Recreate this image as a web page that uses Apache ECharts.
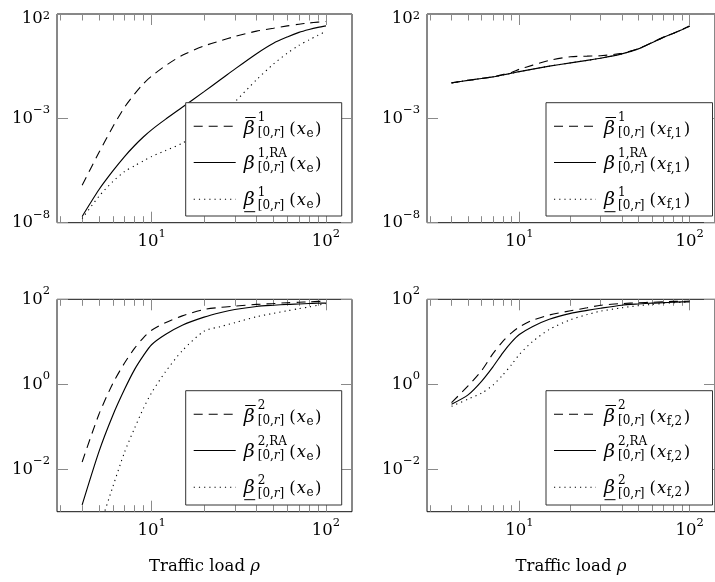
<!DOCTYPE html>
<html><head><meta charset="utf-8">
<script src="https://cdn.jsdelivr.net/npm/echarts@6/dist/echarts.min.js"></script>
<style>html,body{margin:0;padding:0;background:#fff}#c{width:715px;height:582px}</style>
</head><body><div id="c"></div>
<script>
// ---------------- data ----------------
const rho = [4,5,6,7,8,9,10,12,15,20,25,30,40,50,60,70,80,90,100];
// values are given as base-10 exponents of beta
const p1UpperExp = [-6.2,-4.63,-3.40,-2.47,-1.83,-1.33,-0.98,-0.48,0.02,0.47,0.72,0.92,1.18,1.32,1.43,1.51,1.57,1.61,1.64];
const p1RaExp    = [-7.7,-6.41,-5.52,-4.83,-4.30,-3.88,-3.55,-3.05,-2.47,-1.72,-1.13,-0.64,0.10,0.60,0.90,1.12,1.26,1.36,1.43];
const p1LowerExp = [-7.8,-6.73,-6.03,-5.55,-5.27,-5.03,-4.83,-4.55,-4.19,-3.60,-2.88,-2.22,-1.15,-0.40,0.12,0.50,0.76,0.98,1.17];

const p2UpperExp = [-1.30,-1.18,-1.09,-1.01,-0.90,-0.80,-0.65,-0.45,-0.22,-0.05,-0.02,0.00,0.12,0.34,0.63,0.88,1.07,1.25,1.42];
const p2RaExp    = [-1.30,-1.18,-1.09,-1.01,-0.92,-0.84,-0.76,-0.64,-0.50,-0.34,-0.22,-0.12,0.09,0.33,0.62,0.88,1.07,1.25,1.42];
const p2LowerExp = [-1.30,-1.18,-1.09,-1.01,-0.92,-0.84,-0.76,-0.64,-0.50,-0.34,-0.22,-0.12,0.09,0.33,0.62,0.88,1.07,1.25,1.42];

const p3UpperExp = [-1.83,-0.70,0.02,0.50,0.85,1.10,1.27,1.45,1.61,1.76,1.81,1.84,1.88,1.90,1.92,1.93,1.94,1.95,1.95];
const p3RaExp    = [-2.84,-1.58,-0.73,-0.12,0.35,0.68,0.93,1.17,1.39,1.58,1.69,1.76,1.83,1.86,1.88,1.89,1.90,1.91,1.91];
const p3LowerExp = [-4.6,-3.4,-2.41,-1.60,-1.03,-0.56,-0.20,0.29,0.79,1.25,1.36,1.45,1.59,1.67,1.73,1.78,1.82,1.86,1.90];

const p4UpperExp = [-0.43,-0.04,0.32,0.72,1.01,1.21,1.35,1.51,1.63,1.73,1.80,1.86,1.90,1.92,1.93,1.94,1.95,1.95,1.96];
const p4RaExp    = [-0.47,-0.25,0.07,0.41,0.74,0.99,1.17,1.36,1.53,1.67,1.74,1.79,1.86,1.89,1.91,1.92,1.93,1.94,1.94];
const p4LowerExp = [-0.52,-0.35,-0.21,-0.02,0.22,0.46,0.70,1.01,1.29,1.52,1.64,1.72,1.80,1.85,1.88,1.90,1.92,1.93,1.94];

// tick values
const xMajorTicks = [10, 100];
const xMinorTicks = [3,4,5,6,7,8,9,20,30,40,50,60,70,80,90];
const yTicksTop = [1e2, 1e-3, 1e-8];
const yTicksBottom = [1e2, 1, 1e-2];
const xTitle = 'Traffic load ';

// ---------------- styling ----------------
const FONT = 'DejaVu Serif';
const TICK = '#8a8a8a';
const X_MIN = 2.87, X_MAX = 141;

const panels = [
  {left:57,  top:11.7,  width:295, height:211,   yMin:1e-8, yMax:1e2, yTicks:yTicksTop,    data:[p1UpperExp,p1RaExp,p1LowerExp], sup:'1', arg:'e',   box:{x:185.7,y:102.7,w:156,h:113.3}, title:false, topRow:true},
  {left:427, top:11.7,  width:296, height:211,   yMin:1e-8, yMax:1e2, yTicks:yTicksTop,    data:[p2UpperExp,p2RaExp,p2LowerExp], sup:'1', arg:'f,1', box:{x:546,y:102.7,w:166.5,h:113.3}, title:false, topRow:true},
  {left:57,  top:299.3, width:295, height:212.4, yMin:1e-3, yMax:1e2, yTicks:yTicksBottom, data:[p3UpperExp,p3RaExp,p3LowerExp], sup:'2', arg:'e',   box:{x:185.7,y:390.7,w:156,h:114.3}, title:true, topRow:false},
  {left:427, top:299.3, width:296, height:212.4, yMin:1e-3, yMax:1e2, yTicks:yTicksBottom, data:[p4UpperExp,p4RaExp,p4LowerExp], sup:'2', arg:'f,2', box:{x:546,y:390.7,w:166.5,h:114.3}, title:true, topRow:false}
];

const lineTypes = [
  {type:[9,6], width:1.1},
  {type:'solid', width:1.15},
  {type:[1.2,4], width:1.1}
];

const RICH = {
  b:{fontFamily:FONT, fontSize:16.5, lineHeight:28, verticalAlign:'middle', color:'#000'},
  s:{fontFamily:FONT, fontSize:11.5, lineHeight:14, verticalAlign:'top', color:'#000'},
  bd:{fontFamily:FONT, fontSize:16.5, lineHeight:28, verticalAlign:'middle', color:'#000', padding:[10,0,0,0]},
  sd:{fontFamily:FONT, fontSize:11.5, lineHeight:14, verticalAlign:'top', color:'#000', padding:[10,0,0,0]}
};
function powText(v, shifted){
  const e = Math.round(Math.log10(v));
  const t = e < 0 ? '\u2212' + (-e) : String(e);
  return shifted ? '{bd|10}{sd|' + t + '}' : '{b|10}{s|' + t + '}';
}
function powLabel(v){ return powText(v, false); }
function powLabelTopRow(v){ return powText(v, Math.round(Math.log10(v)) === 2); }

const option = {animation:false, backgroundColor:'#fff', grid:[], xAxis:[], yAxis:[], series:[], graphic:{elements:[]}};

panels.forEach((p, i) => {
  option.grid.push({left:p.left, top:p.top, width:p.width, height:p.height, show:true,
    borderColor:'#111', borderWidth:1, backgroundColor:'transparent', containLabel:false});
  const xBase = {type:'log', logBase:10, gridIndex:i, min:X_MIN, max:X_MAX,
    axisLine:{show:false}, splitLine:{show:false}, minorTick:{show:false}, minorSplitLine:{show:false}};
  const xi = option.xAxis.length;
  const mainX = Object.assign({}, xBase, {position:'bottom',
    axisTick:{show:true, inside:true, length:11, customValues:xMajorTicks, lineStyle:{color:TICK, width:1}},
    axisLabel:{show:true, customValues:xMajorTicks, margin:5, formatter:powLabel, rich:RICH}});
  if (p.title) {
    mainX.name = '{n|' + xTitle + '}{i|\u03C1}';
    mainX.nameLocation = 'middle';
    mainX.nameGap = 47;
    mainX.nameTextStyle = {rich:{
      n:{fontFamily:FONT, fontSize:16.5, color:'#000'},
      i:{fontFamily:FONT, fontSize:16.5, fontStyle:'italic', color:'#000'}}};
  }
  option.xAxis.push(mainX);
  option.xAxis.push(Object.assign({}, xBase, {position:'bottom',
    axisTick:{show:true, inside:true, length:6.5, customValues:xMinorTicks, lineStyle:{color:TICK, width:1}},
    axisLabel:{show:false}}));
  option.xAxis.push(Object.assign({}, xBase, {position:'top',
    axisTick:{show:true, inside:true, length:11, customValues:xMajorTicks, lineStyle:{color:TICK, width:1}},
    axisLabel:{show:false}}));
  option.xAxis.push(Object.assign({}, xBase, {position:'top',
    axisTick:{show:true, inside:true, length:6.5, customValues:xMinorTicks, lineStyle:{color:TICK, width:1}},
    axisLabel:{show:false}}));

  const yBase = {type:'log', logBase:10, gridIndex:i, min:p.yMin, max:p.yMax,
    axisLine:{show:false}, splitLine:{show:false}, minorTick:{show:false}};
  const yi = option.yAxis.length;
  option.yAxis.push(Object.assign({}, yBase, {position:'left',
    axisTick:{show:true, inside:true, length:11, customValues:p.yTicks, lineStyle:{color:TICK, width:1}},
    axisLabel:{show:true, customValues:p.yTicks, margin:7, formatter: p.topRow ? powLabelTopRow : powLabel, rich:RICH}}));
  option.yAxis.push(Object.assign({}, yBase, {position:'right',
    axisTick:{show:true, inside:true, length:11, customValues:p.yTicks, lineStyle:{color:TICK, width:1}},
    axisLabel:{show:false}}));

  p.data.forEach((exps, k) => {
    option.series.push({type:'line', xAxisIndex:xi, yAxisIndex:yi, symbol:'none', smooth:0.25,
      clip:true, silent:true,
      lineStyle:{color:'#000', width:lineTypes[k].width, type:lineTypes[k].type},
      data: rho.map((r, j) => [r, Math.pow(10, exps[j])])});
  });

  // legend (drawn as graphics with real text)
  const b = p.box, E = option.graphic.elements, Z = 100;
  E.push({type:'rect', z:Z, shape:{x:b.x, y:b.y, width:b.w, height:b.h},
    style:{fill:'#fff', stroke:'#333', lineWidth:1}});
  const sampleY = [23.5, 59.8, 96.5];
  const rowC = [27.3, 62, 98];
  const sups = [p.sup, p.sup + ',RA', p.sup];
  for (let k = 0; k < 3; k++) {
    const sy = b.y + sampleY[k];
    E.push({type:'line', z:Z+1, shape:{x1:b.x+8, y1:sy, x2:b.x+50, y2:sy},
      style:{stroke:'#000', lineWidth:lineTypes[k].width, lineDash: lineTypes[k].type === 'solid' ? null : lineTypes[k].type}});
    const c = b.y + rowC[k];
    const bx = b.x + 58;
    E.push({type:'text', z:Z+1, x:bx, y:c-1, style:{text:'\u03B2', fontFamily:FONT, fontSize:19, fontStyle:'italic',
      fill:'#000', align:'left', verticalAlign:'middle'}});
    if (k === 0) E.push({type:'line', z:Z+1, shape:{x1:bx+1.5, y1:c-12.5, x2:bx+12, y2:c-12.5}, style:{stroke:'#000', lineWidth:1}});
    if (k === 2) E.push({type:'line', z:Z+1, shape:{x1:bx+0.5, y1:c+11, x2:bx+11.5, y2:c+11}, style:{stroke:'#000', lineWidth:1}});
    const supY = [c-12, c-11, c-8][k];
    const subY = [c+3, c+3, c+5][k];
    E.push({type:'text', z:Z+1, x:bx+14, y:supY, style:{text:sups[k], fontFamily:FONT, fontSize:12,
      fill:'#000', align:'left', verticalAlign:'middle'}});
    E.push({type:'text', z:Z+1, x:bx+14, y:subY, style:{text:'{n|[0,}{i|r}{n|]}', align:'left', verticalAlign:'middle',
      rich:{n:{fontFamily:FONT, fontSize:12, fill:'#000'}, i:{fontFamily:FONT, fontSize:12, fontStyle:'italic', fill:'#000'}}}});
    E.push({type:'text', z:Z+1, x:bx+45.5, y:c, style:{text:'{n|(}{i|x}{s|' + p.arg + '}{n|)}', align:'left', verticalAlign:'middle',
      rich:{n:{fontFamily:FONT, fontSize:16.5, fill:'#000', lineHeight:20, verticalAlign:'middle'},
            i:{fontFamily:FONT, fontSize:16.5, fontStyle:'italic', fill:'#000', lineHeight:20, verticalAlign:'middle', padding:[0,0.5,0,1]},
            s:{fontFamily:FONT, fontSize:12, fill:'#000', lineHeight:12, verticalAlign:'bottom', padding:[0,1.5,0,0]}}}});
  }
});

const chart = echarts.init(document.getElementById('c'), null, {renderer:'canvas'});
chart.setOption(option);
</script>
</body></html>
